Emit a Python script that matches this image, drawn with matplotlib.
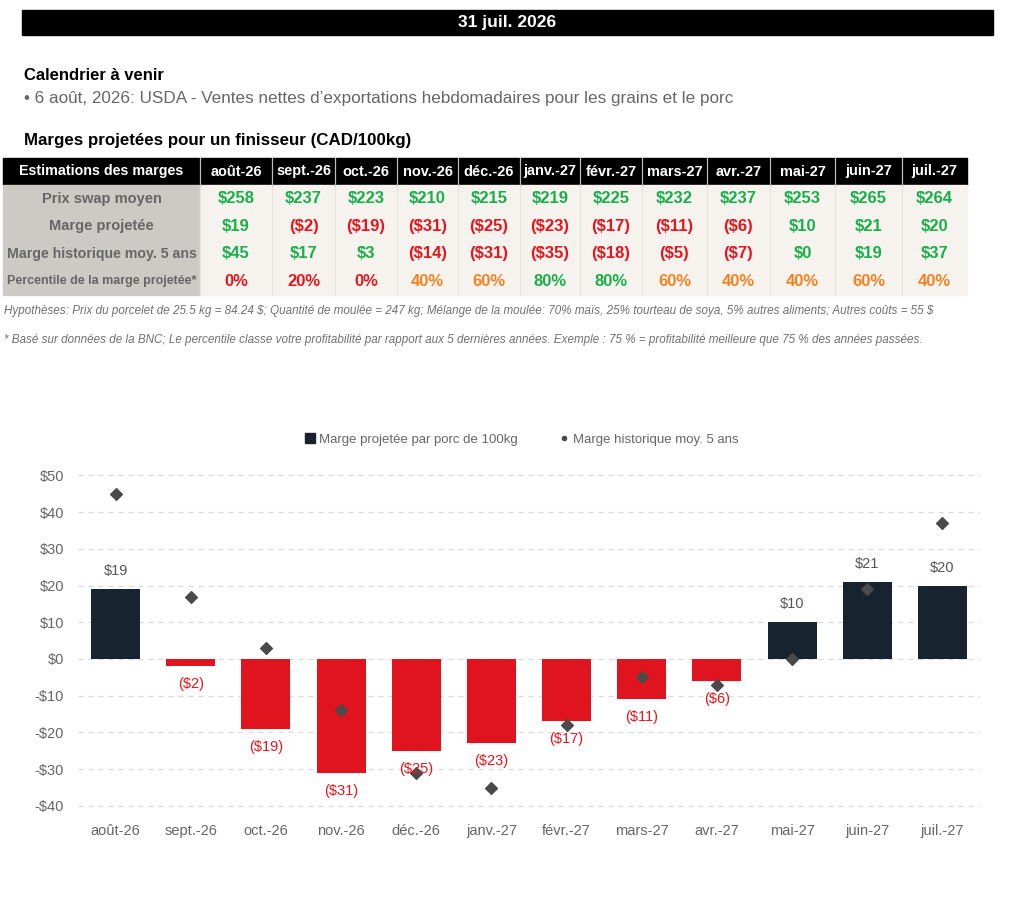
import matplotlib.pyplot as plt
from matplotlib.patches import Rectangle
from matplotlib.lines import Line2D

# --- données ---
mois = ['août-26', 'sept.-26', 'oct.-26', 'nov.-26', 'déc.-26', 'janv.-27',
        'févr.-27', 'mars-27', 'avr.-27', 'mai-27', 'juin-27', 'juil.-27']
prix_swap = [258, 237, 223, 210, 215, 219, 225, 232, 237, 253, 265, 264]
marge_proj = [19, -2, -19, -31, -25, -23, -17, -11, -6, 10, 21, 20]
marge_hist = [45, 17, 3, -14, -31, -35, -18, -5, -7, 0, 19, 37]
percentile = [0, 20, 0, 40, 60, 80, 80, 60, 40, 40, 60, 40]
lignes = ['Prix swap moyen', 'Marge projetée', 'Marge historique moy. 5 ans',
          'Percentile de la marge projetée*']

GREEN = '#1aae4a'
RED = '#e8141c'
ORANGE = '#f5821f'
NAVY = '#17232f'
BAR_RED = '#e0141f'
GRAY = '#666666'

plt.rcParams['font.family'] = ['Liberation Sans', 'DejaVu Sans']
plt.rcParams['text.parse_math'] = False


def dollars(v):
    return f'${v}' if v >= 0 else f'(${-v})'


def pct_color(p):
    if p <= 20:
        return RED
    if p <= 60:
        return ORANGE
    return GREEN


fig = plt.figure(figsize=(10.24, 8.98), dpi=100)
renderer = fig.canvas.get_renderer()


def fit_group(texts, max_w):
    # réduit la police d'un groupe de textes pour que le plus large tienne dans max_w
    widest = max(t.get_window_extent(renderer).width for t in texts)
    if widest > max_w:
        k = max_w / widest
        for t in texts:
            t.set_fontsize(t.get_fontsize() * k)


# calque en pixels pour l'en-tête et le tableau
bg = fig.add_axes([0, 0, 1, 1])
bg.set_xlim(0, 1024)
bg.set_ylim(898, 0)
bg.axis('off')

bg.add_patch(Rectangle((22, 10), 971, 25, color='black'))
bg.text(507, 23, '31 juil. 2026', color='white', fontsize=12.5, fontweight='bold',
        ha='center', va='center')
bg.text(24, 75, 'Calendrier à venir', fontsize=12, fontweight='bold', va='center')
bg.text(24, 98, '• 6 août, 2026: USDA - Ventes nettes d’exportations hebdomadaires pour les grains et le porc',
        fontsize=12.3, color=GRAY, va='center')
bg.text(24, 140, 'Marges projetées pour un finisseur (CAD/100kg)', fontsize=12.2,
        fontweight='bold', va='center')

# tableau
bounds = [3, 200, 272, 335, 397, 458, 520, 580, 642, 707, 770, 835, 902, 967]
top, hdr_h, row_h = 158, 27, 27.5
bg.add_patch(Rectangle((3, top), 964, hdr_h, color='black'))
bg.add_patch(Rectangle((3, top + hdr_h), 197, 4 * row_h, color='#cdc9c4'))
bg.add_patch(Rectangle((200, top + hdr_h), 767, 4 * row_h, color='#f6f3ef'))
for x in bounds[1:-1]:
    bg.plot([x, x], [top, top + hdr_h + 4 * row_h], color='#e6e3df', lw=0.8)
    bg.plot([x, x], [top, top + hdr_h], color='#bdbdbd', lw=0.8)
t = bg.text((bounds[0] + bounds[1]) / 2, top + hdr_h / 2, 'Estimations des marges',
            color='white', fontsize=11.5, fontweight='bold', ha='center', va='center')
fit_group([t], 165)
head = []
for i, m in enumerate(mois):
    cx = (bounds[i + 1] + bounds[i + 2]) / 2
    head.append(bg.text(cx, top + hdr_h / 2, m, color='white', fontsize=11.5,
                        fontweight='bold', ha='center', va='center'))
fit_group(head, 56)

rows = [
    [(f'${v}', GREEN) for v in prix_swap],
    [(dollars(v), GREEN if v >= 0 else RED) for v in marge_proj],
    [(dollars(v), GREEN if v >= 0 else RED) for v in marge_hist],
    [(f'{p}%', pct_color(p)) for p in percentile],
]
for r, (lab, cells) in enumerate(zip(lignes, rows)):
    cy = top + hdr_h + row_h * (r + 0.5)
    lt = bg.text((bounds[0] + bounds[1]) / 2, cy, lab, color=GRAY, fontsize=10.5,
                 fontweight='bold', ha='center', va='center')
    fit_group([lt], 191)
    for i, (txt, col) in enumerate(cells):
        cx = (bounds[i + 1] + bounds[i + 2]) / 2
        bg.text(cx, cy, txt, color=col, fontsize=12, fontweight='bold',
                ha='center', va='center')

notes = [
    bg.text(4, 311, 'Hypothèses: Prix du porcelet de 25.5 kg = 84.24 $; Quantité de moulée = 247 kg; '
            'Mélange de la moulée: 70% maïs, 25% tourteau de soya, 5% autres aliments; Autres coûts = 55 $',
            color='#707070', fontsize=10.5, style='italic', va='center'),
    bg.text(4, 340, '* Basé sur données de la BNC; Le percentile classe votre profitabilité par rapport aux '
            '5 dernières années. Exemple : 75 % = profitabilité meilleure que 75 % des années passées.',
            color='#707070', fontsize=10.5, style='italic', va='center'),
]
fit_group(notes, 931)

# --- graphique ---
ax = fig.add_axes([78 / 1024, 1 - 814 / 898, 902 / 1024, 346 / 898])
x = range(len(mois))
colors = [NAVY if v >= 0 else BAR_RED for v in marge_proj]
ax.bar(x, marge_proj, width=0.65, color=colors, zorder=2)
ax.scatter(x, marge_hist, marker='D', s=36, color='#4a4a4a', zorder=3)

for i, v in enumerate(marge_proj):
    if v >= 0:
        ax.text(i, v + 3, dollars(v), ha='center', va='bottom', color='#555555', fontsize=10.5)
    else:
        ax.text(i, v - 3, dollars(v), ha='center', va='top', color=RED, fontsize=10.5)

ax.set_xlim(-0.5, len(mois) - 0.5)
ax.set_ylim(-42.2, 52)
ax.set_yticks(range(-40, 60, 10))
ax.set_yticklabels([f'${t}' if t >= 0 else f'-${-t}' for t in range(-40, 60, 10)])
ax.set_xticks(list(x))
ax.set_xticklabels(mois)
ax.tick_params(length=0, labelsize=10.5, labelcolor='#666666')
ax.tick_params(axis='x', pad=7)
ax.tick_params(axis='y', pad=10)
ax.grid(axis='y', linestyle=(0, (4, 4)), color='#d9d9d9', lw=0.9, zorder=0)
for s in ax.spines.values():
    s.set_visible(False)

handles = [
    Line2D([], [], marker='s', linestyle='', color=NAVY, markersize=7,
           label='Marge projetée par porc de 100kg'),
    Line2D([], [], marker='o', linestyle='', color='#4a4a4a', markersize=3,
           label='Marge historique moy. 5 ans'),
]
fig.legend(handles=handles, loc='center', bbox_to_anchor=(521 / 1024, 1 - 440 / 898), ncol=2,
           frameon=False, fontsize=9.5, labelcolor='#666666', columnspacing=3,
           handletextpad=0.2, handlelength=1)

fig.savefig('out.png', dpi=100)
